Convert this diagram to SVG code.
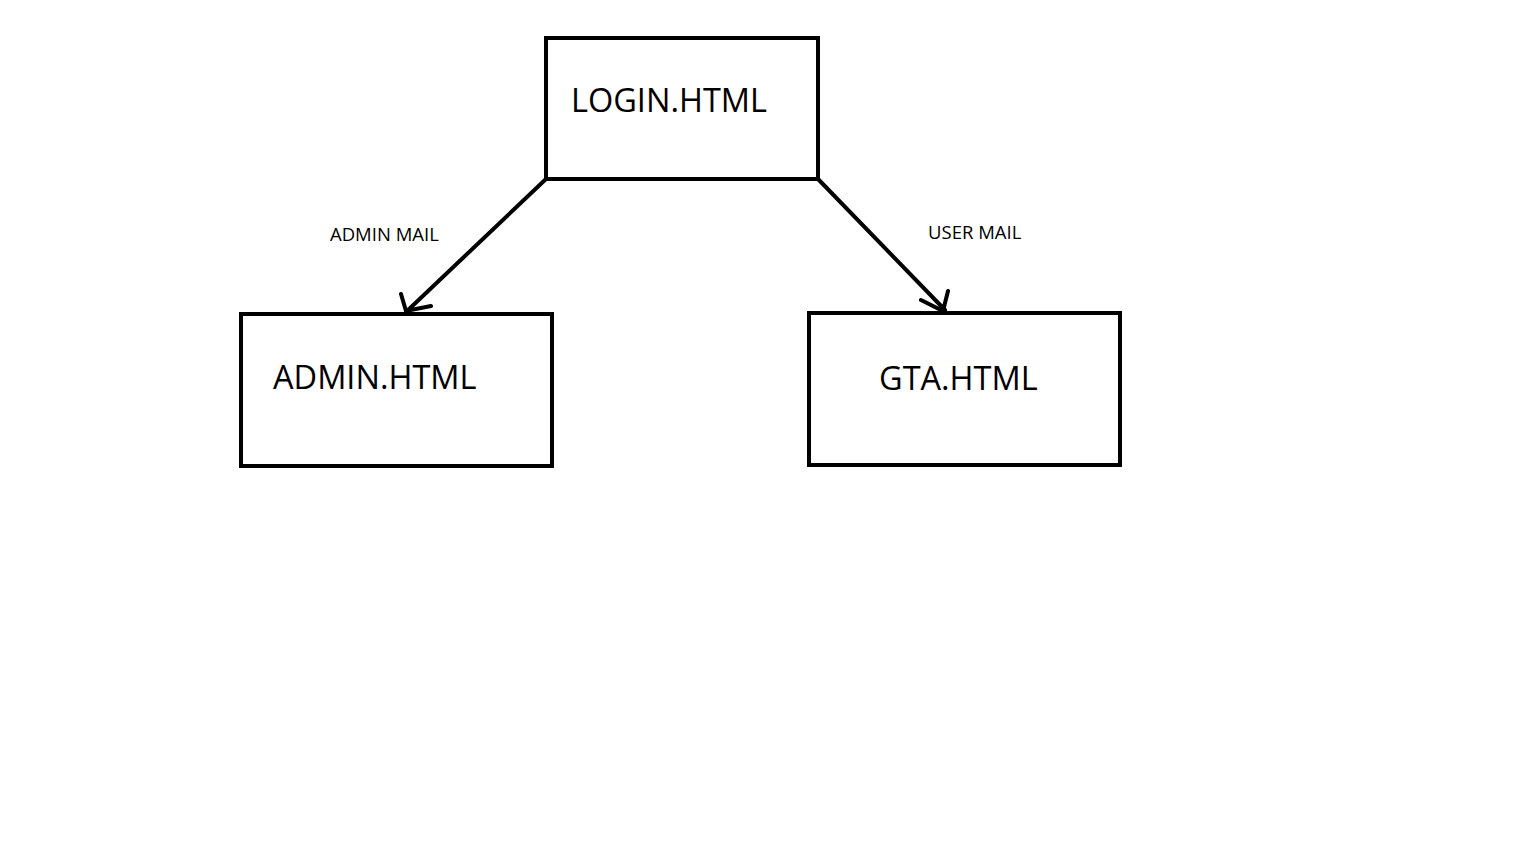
<svg xmlns="http://www.w3.org/2000/svg" width="1536" height="864" viewBox="0 0 1536 864">
<style>
.box{fill:#fff;stroke:#000;stroke-width:4}
.big{font-family:"Open Sans","Noto Sans",sans-serif;font-size:32.5px;fill:#000}
.small{font-family:"Open Sans","Noto Sans",sans-serif;font-size:18.5px;fill:#000}
.con{stroke:#000;stroke-width:4;fill:none;stroke-linecap:round}
</style>
<rect width="1536" height="864" fill="#fff"/>
<g id="connectors">
<path class="con" d="M546,179 L406,312 M401,294 L406,311 L431,306"/>
<path class="con" d="M818,179 L945,310 M948,291 L943,311 L921,300"/>
<text class="small" x="330" y="241">ADMIN MAIL</text>
<text class="small" x="928" y="239">USER MAIL</text>
</g>
<g id="login">
<rect class="box" x="546" y="38" width="272" height="141"/>
<text class="big" x="571" y="112">LOGIN.HTML</text>
</g>
<g id="admin">
<rect class="box" x="241" y="314" width="311" height="152"/>
<text class="big" x="273" y="389">ADMIN.HTML</text>
</g>
<g id="gta">
<rect class="box" x="809" y="313" width="311" height="152"/>
<text class="big" x="879" y="390">GTA.HTML</text>
</g>
</svg>
